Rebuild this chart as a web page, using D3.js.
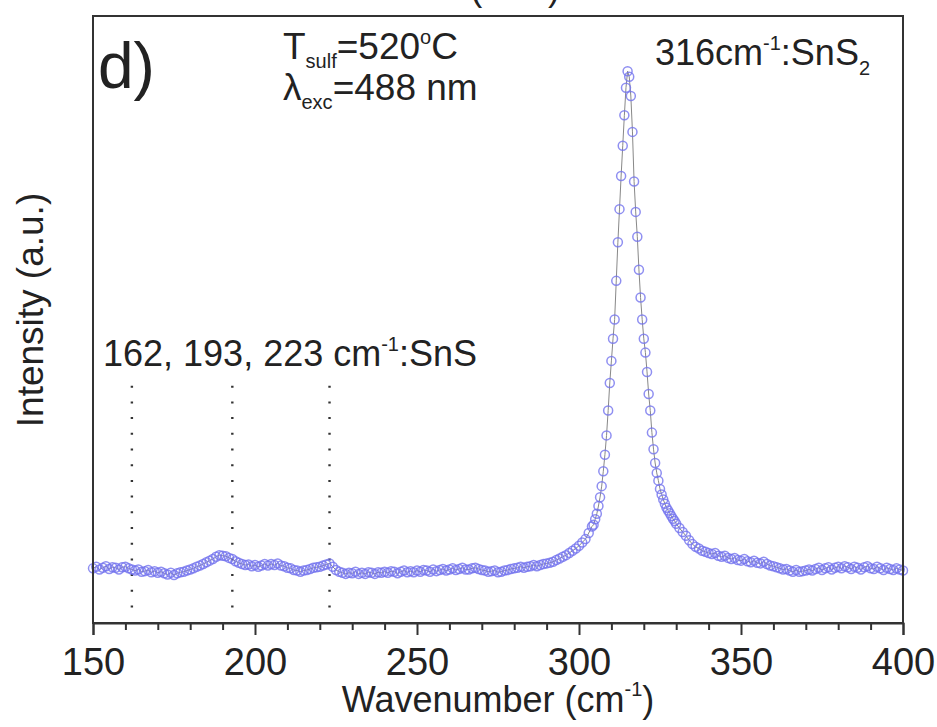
<!DOCTYPE html>
<html>
<head>
<meta charset="utf-8">
<script src="https://cdn.jsdelivr.net/npm/d3@7"></script>
<style>
  body { margin: 0; background: #fff; }
  svg { font-family: Arial, "Liberation Sans", sans-serif; }
</style>
</head>
<body>
<div id="chart"></div>
<script>
// Raman spectrum, SnS2 film (T_sulf = 520 C)
const wavenumbers = [
  150,151,152,153,154,155,156,157,158,159,
  160,161,162,163,164,165,166,167,168,169,
  170,171,172,173,174,175,176,177,178,179,
  180,181,182,183,184,185,186,187,188,189,
  190,191,192,193,194,195,196,197,198,199,
  200,201,202,203,204,205,206,207,208,209,
  210,211,212,213,214,215,216,217,218,219,
  220,221,222,223,224,225,226,227,228,229,
  230,231,232,233,234,235,236,237,238,239,
  240,241,242,243,244,245,246,247,248,249,
  250,251,252,253,254,255,256,257,258,259,
  260,261,262,263,264,265,266,267,268,269,
  270,271,272,273,274,275,276,277,278,279,
  280,281,282,283,284,285,286,287,288,289,
  290,291,292,293,294,295,296,297,298,299,
  300,301,302,303,304,
  304.5,305,305.5,306,306.5,307,307.5,308,308.5,309,309.5,
  310,310.5,311,311.5,312,312.5,313,313.5,314,314.5,
  315,315.5,316,316.5,317,317.5,318,318.5,319,319.5,
  320,320.5,321,321.5,322,322.5,323,323.5,324,324.5,
  325,325.5,326,326.5,327,327.5,328,328.5,329,329.5,330,
  331,332,333,334,335,336,337,338,339,340,
  341,342,343,344,345,346,347,348,349,350,
  351,352,353,354,355,356,357,358,359,360,
  361,362,363,364,365,366,367,368,369,370,
  371,372,373,374,375,376,377,378,379,380,
  381,382,383,384,385,386,387,388,389,390,
  391,392,393,394,395,396,397,398,399,400
];

const intensities = [
  99,102,97,100,103,98,101,100,97,101,
  102,99,97,95,97,93,94,96,92,94,
  91,93,90,88,91,87,90,92,93,95,
  97,99,102,104,107,110,113,116,120,123,
  122,121,118,116,112,109,107,105,106,103,
  105,102,104,107,104,107,105,108,104,103,
  100,99,96,95,93,95,96,98,100,101,
  102,104,106,108,102,96,93,91,89,91,
  90,93,89,91,89,92,91,89,92,91,
  93,91,94,93,90,93,95,92,94,92,
  95,93,96,95,93,97,94,96,98,95,
  97,99,96,98,100,97,97,99,100,98,
  96,95,93,94,95,92,93,95,96,98,
  99,100,102,100,102,103,105,103,105,107,
  108,109,111,114,117,120,123,127,131,135,
  140,146,152,163,175,
  178,188,198,212,228,248,275,305,340,385,435,
  475,515,550,620,690,750,810,865,920,970,
  1000,990,955,890,800,745,700,640,590,550,
  515,490,455,415,385,345,315,290,272,258,
  243,233,224,216,209,204,199,194,189,185,180,
  172,165,158,150,143,138,135,131,129,127,
  125,127,122,120,122,118,116,118,114,113,
  116,112,110,113,109,108,111,107,104,103,
  101,99,97,98,95,93,96,93,94,95,
  97,95,98,100,96,99,101,97,100,102,
  99,103,101,98,102,100,97,101,103,99,
  98,102,99,96,100,98,96,99,97,95
];

// SnS mode positions (dotted markers)
const snsModes = [162, 193, 223];

const majorTicks = [150, 200, 250, 300, 350, 400];
const minorTicks = [160, 170, 180, 190, 210, 220, 230, 240, 260, 270, 280, 290,
                    310, 320, 330, 340, 360, 370, 380, 390];

const data = wavenumbers.map((w, i) => ({ w: w, v: intensities[i] }));

const width = 937;
const height = 727;
const margin = { top: 16, right: 34, bottom: 104, left: 93 };
const innerW = width - margin.left - margin.right;
const innerH = height - margin.top - margin.bottom;

const svg = d3.select("#chart")
    .append("svg")
    .attr("width", width)
    .attr("height", height);

const g = svg.append("g")
    .attr("transform", `translate(${margin.left},${margin.top})`);

const xScale = d3.scaleLinear()
    .domain([150, 400])
    .range([0, innerW]);

const yScale = d3.scaleLinear()
    .domain([0, 1100])
    .range([innerH, 0]);

// dotted SnS lines
g.selectAll(".sns")
    .data(snsModes)
    .enter()
    .append("line")
    .attr("class", "sns")
    .attr("x1", d => xScale(d))
    .attr("x2", d => xScale(d))
    .attr("y1", yScale(430))
    .attr("y2", yScale(20))
    .attr("stroke", "#333")
    .attr("stroke-width", 2.4)
    .attr("stroke-dasharray", "2,13.7");

// connecting line
const line = d3.line()
    .x(d => xScale(d.w))
    .y(d => yScale(d.v));

g.append("path")
    .datum(data)
    .attr("fill", "none")
    .attr("stroke", "#888")
    .attr("stroke-width", 1)
    .attr("d", line);

// open circle markers
g.selectAll(".pt")
    .data(data)
    .enter()
    .append("circle")
    .attr("class", "pt")
    .attr("cx", d => xScale(d.w))
    .attr("cy", d => yScale(d.v))
    .attr("r", 4.5)
    .attr("fill", "none")
    .attr("stroke", "#7373ee")
    .attr("stroke-opacity", 0.8)
    .attr("stroke-width", 1.5);

// frame
g.append("rect")
    .attr("x", 0)
    .attr("y", 0)
    .attr("width", innerW)
    .attr("height", innerH)
    .attr("fill", "none")
    .attr("stroke", "#333")
    .attr("stroke-width", 2);

// x axis: minor then major ticks
g.append("g")
    .attr("transform", `translate(0,${innerH})`)
    .call(d3.axisBottom(xScale).tickValues(minorTicks).tickSize(7).tickFormat(""))
    .call(a => a.select(".domain").remove())
    .selectAll("line")
    .attr("stroke", "#333")
    .attr("stroke-width", 2);

const xAxis = g.append("g")
    .attr("transform", `translate(0,${innerH})`)
    .call(d3.axisBottom(xScale).tickValues(majorTicks).tickSize(12).tickPadding(13).tickFormat(d3.format("d")));

xAxis.select(".domain").attr("stroke", "#333").attr("stroke-width", 2);
xAxis.selectAll("line").attr("stroke", "#333").attr("stroke-width", 2);
xAxis.selectAll("text")
    .attr("font-size", "38px")
    .attr("fill", "#222");

// axis titles
const xTitle = svg.append("text")
    .attr("x", margin.left + innerW / 2)
    .attr("y", 712)
    .attr("text-anchor", "middle")
    .attr("font-size", "36px")
    .attr("fill", "#222");
xTitle.append("tspan").text("Wavenumber (cm");
xTitle.append("tspan").attr("font-size", "20px").attr("dy", "-16").text("-1");
xTitle.append("tspan").attr("dy", "16").text(")");

// cut-off title of the panel above
const prevTitle = svg.append("text")
    .attr("x", 560)
    .attr("y", 0)
    .attr("text-anchor", "end")
    .attr("font-size", "36px")
    .attr("fill", "#222");
prevTitle.append("tspan").text("Wavenumber (cm");
prevTitle.append("tspan").attr("font-size", "20px").attr("dy", "-16").text("-1");
prevTitle.append("tspan").attr("dy", "16").text(")");

svg.append("text")
    .attr("transform", "translate(43,310) rotate(-90)")
    .attr("text-anchor", "middle")
    .attr("font-size", "37px")
    .attr("fill", "#222")
    .text("Intensity (a.u.)");

// annotations
svg.append("text")
    .attr("x", 98)
    .attr("y", 88)
    .attr("font-size", "64px")
    .attr("fill", "#222")
    .text("d)");

const tSulf = svg.append("text")
    .attr("x", 283)
    .attr("y", 59)
    .attr("font-size", "37px")
    .attr("fill", "#222");
tSulf.append("tspan").text("T");
tSulf.append("tspan").attr("font-size", "20px").attr("dy", "9").text("sulf");
tSulf.append("tspan").attr("dy", "-9").text("=520");
tSulf.append("tspan").attr("font-size", "20px").attr("dy", "-15").text("o");
tSulf.append("tspan").attr("dy", "15").text("C");

const lambda = svg.append("text")
    .attr("x", 283)
    .attr("y", 100)
    .attr("font-size", "37px")
    .attr("fill", "#222");
lambda.append("tspan").text("λ");
lambda.append("tspan").attr("font-size", "20px").attr("dy", "9").text("exc");
lambda.append("tspan").attr("dy", "-9").text("=488 nm");

const sns2 = svg.append("text")
    .attr("x", 655)
    .attr("y", 65)
    .attr("font-size", "36px")
    .attr("fill", "#222");
sns2.append("tspan").text("316cm");
sns2.append("tspan").attr("font-size", "20px").attr("dy", "-15").text("-1");
sns2.append("tspan").attr("dy", "15").text(":SnS");
sns2.append("tspan").attr("font-size", "20px").attr("dy", "10").text("2");

const sns = svg.append("text")
    .attr("x", 103)
    .attr("y", 366)
    .attr("font-size", "36px")
    .attr("fill", "#222");
sns.append("tspan").text("162, 193, 223 cm");
sns.append("tspan").attr("font-size", "20px").attr("dy", "-15").text("-1");
sns.append("tspan").attr("dy", "15").text(":SnS");
</script>
</body>
</html>
